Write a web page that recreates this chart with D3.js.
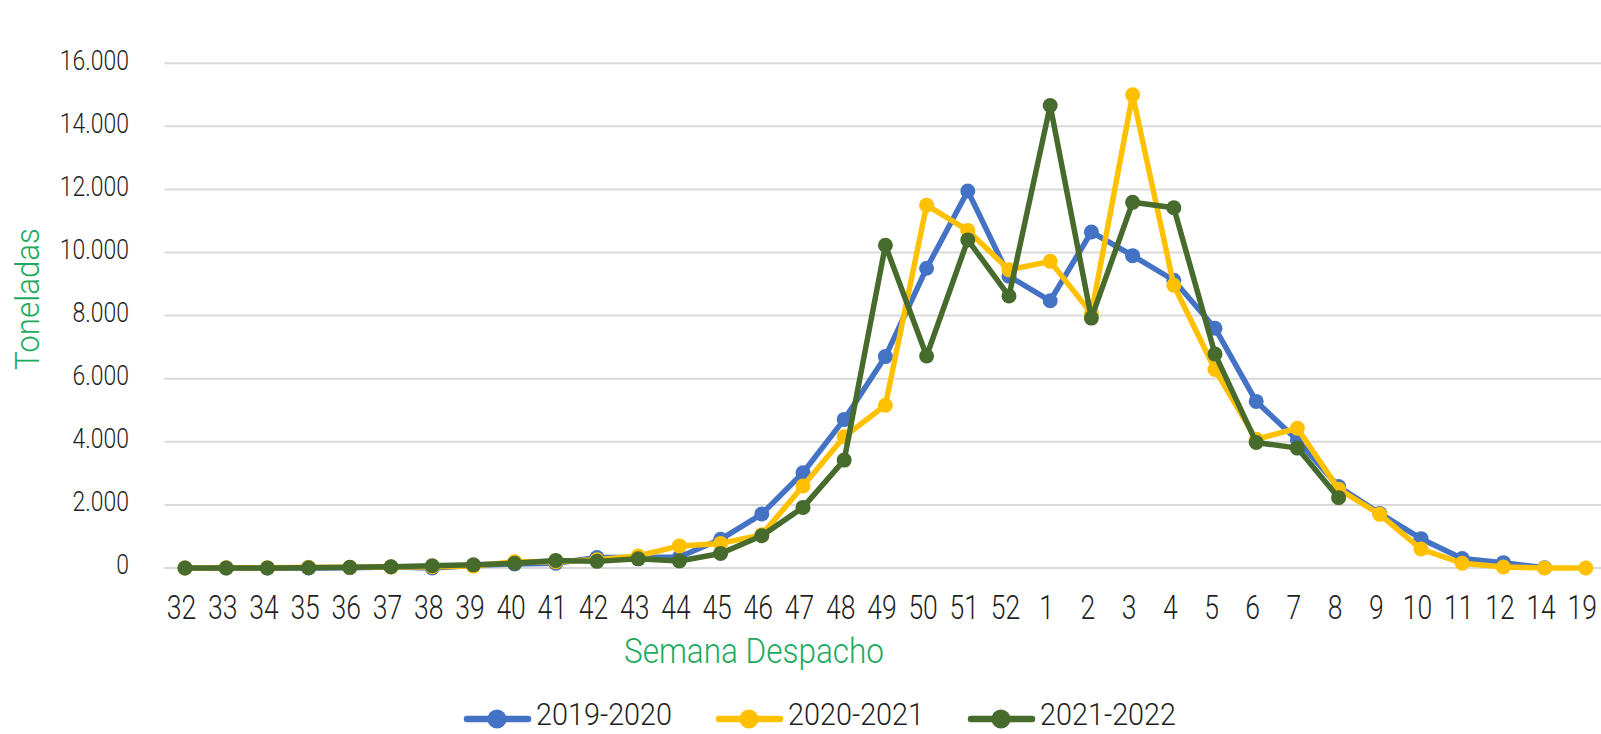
<!DOCTYPE html>
<html>
<head>
<meta charset="utf-8">
<script src="https://cdn.jsdelivr.net/npm/d3@7"></script>
<style>
  html, body { margin: 0; padding: 0; background: #fff; }
  svg { display: block; }
  text { font-family: Roboto, "Liberation Sans", sans-serif; }
</style>
</head>
<body>
<svg id="chart" width="1601" height="734"></svg>
<script>
const categories = ["32","33","34","35","36","37","38","39","40","41","42","43","44","45","46","47","48","49","50","51","52","1","2","3","4","5","6","7","8","9","10","11","12","14","19"];

const s2019 = [0,0,0,0,10,30,0,80,130,150,330,330,350,910,1710,3020,4710,6700,9500,11950,9250,8470,10650,9900,9120,7600,5280,4050,2580,1730,930,300,170,10,null];
const s2020 = [0,10,10,20,20,30,40,60,200,200,260,380,700,780,1050,2600,4160,5160,11500,10700,9450,9720,8070,15000,8960,6290,4080,4430,2500,1700,600,150,30,0,0];
const s2021 = [0,0,0,10,20,40,70,100,150,240,210,290,220,460,1020,1920,3420,10230,6720,10400,8620,14660,7920,11590,11420,6780,3980,3800,2230,null,null,null,null,null,null];

const seriesNames = ["2019-2020","2020-2021","2021-2022"];
const seriesData = [s2019, s2020, s2021];
const colors = ["#4472C4", "#FFC000", "#466B2C"];

const yTicks = [0,2000,4000,6000,8000,10000,12000,14000,16000];

(function () {
const svg = d3.select("#chart");
const pLeft = 164.4, pRight = 1606.4, pTop = 63.2, pBottom = 568;
const textColor = "#1f1f1f";
const titleColor = "#1DAA5E";

const x = d3.scalePoint().domain(categories).range([pLeft, pRight]).padding(0.5);
const y = d3.scaleLinear().domain([0, 16000]).range([pBottom, pTop]);

const fmt = v => d3.format(",")(v).replace(/,/g, ".");

// gridlines
svg.append("g").selectAll("line").data(yTicks).join("line")
  .attr("x1", pLeft).attr("x2", pRight)
  .attr("y1", d => y(d)).attr("y2", d => y(d))
  .attr("stroke", "#d9d9d9").attr("stroke-width", 2);

// y axis labels
const yAxis = d3.axisLeft(y).tickValues(yTicks).tickFormat(fmt).tickSize(0).tickPadding(0);
const gy = svg.append("g").attr("transform", `translate(129,-3)`).call(yAxis);
gy.select(".domain").remove();
gy.selectAll("text").attr("font-size", 28).attr("fill", textColor)
  .attr("font-family", null).attr("font-weight", 300)
  .attr("transform", "scale(0.82,1)");

// x axis labels
const xAxis = d3.axisBottom(x).tickSize(0).tickPadding(0);
const gx = svg.append("g").attr("transform", `translate(-4,${pBottom})`).call(xAxis);
gx.select(".domain").remove();
gx.selectAll("text").attr("font-size", 34).attr("fill", textColor)
  .attr("font-family", null).attr("font-weight", 300)
  .attr("dy", null).attr("y", 51)
  .attr("transform", "scale(0.78,1)");

// lines and markers
const line = d3.line()
  .defined(d => d.v !== null)
  .x(d => x(d.c)).y(d => y(d.v));

seriesData.forEach((arr, i) => {
  const pts = arr.map((v, j) => ({c: categories[j], v}));
  const g = svg.append("g");
  g.append("path").datum(pts)
    .attr("d", line).attr("fill", "none")
    .attr("stroke", colors[i]).attr("stroke-width", 5.5)
    .attr("stroke-linejoin", "round").attr("stroke-linecap", "round");
  g.selectAll("circle").data(pts.filter(d => d.v !== null)).join("circle")
    .attr("cx", d => x(d.c)).attr("cy", d => y(d.v)).attr("r", 7.5)
    .attr("fill", colors[i]);
});

// axis titles
svg.append("text")
  .attr("transform", "translate(39,299) rotate(-90) scale(0.92,1)")
  .attr("text-anchor", "middle")
  .attr("font-size", 34).attr("font-weight", 300).attr("fill", titleColor)
  .text("Toneladas");

svg.append("text")
  .attr("transform", "translate(754,663) scale(0.9,1)")
  .attr("text-anchor", "middle")
  .attr("font-size", 35).attr("font-weight", 300).attr("fill", titleColor)
  .text("Semana Despacho");

// legend
const legendX = [465, 717, 969];
const legendY = 719;
seriesNames.forEach((name, i) => {
  const g = svg.append("g").attr("transform", `translate(${legendX[i]},${legendY})`);
  g.append("line").attr("x1", 2).attr("x2", 63).attr("y1", 0).attr("y2", 0)
    .attr("stroke", colors[i]).attr("stroke-width", 6.5).attr("stroke-linecap", "round");
  g.append("circle").attr("cx", 32).attr("cy", 0).attr("r", 9.5).attr("fill", colors[i]);
  g.append("text").attr("transform", "translate(71,6) scale(0.9,1)")
    .attr("font-size", 32).attr("font-weight", 300).attr("fill", textColor).text(name);
});
})();
</script>
</body>
</html>
